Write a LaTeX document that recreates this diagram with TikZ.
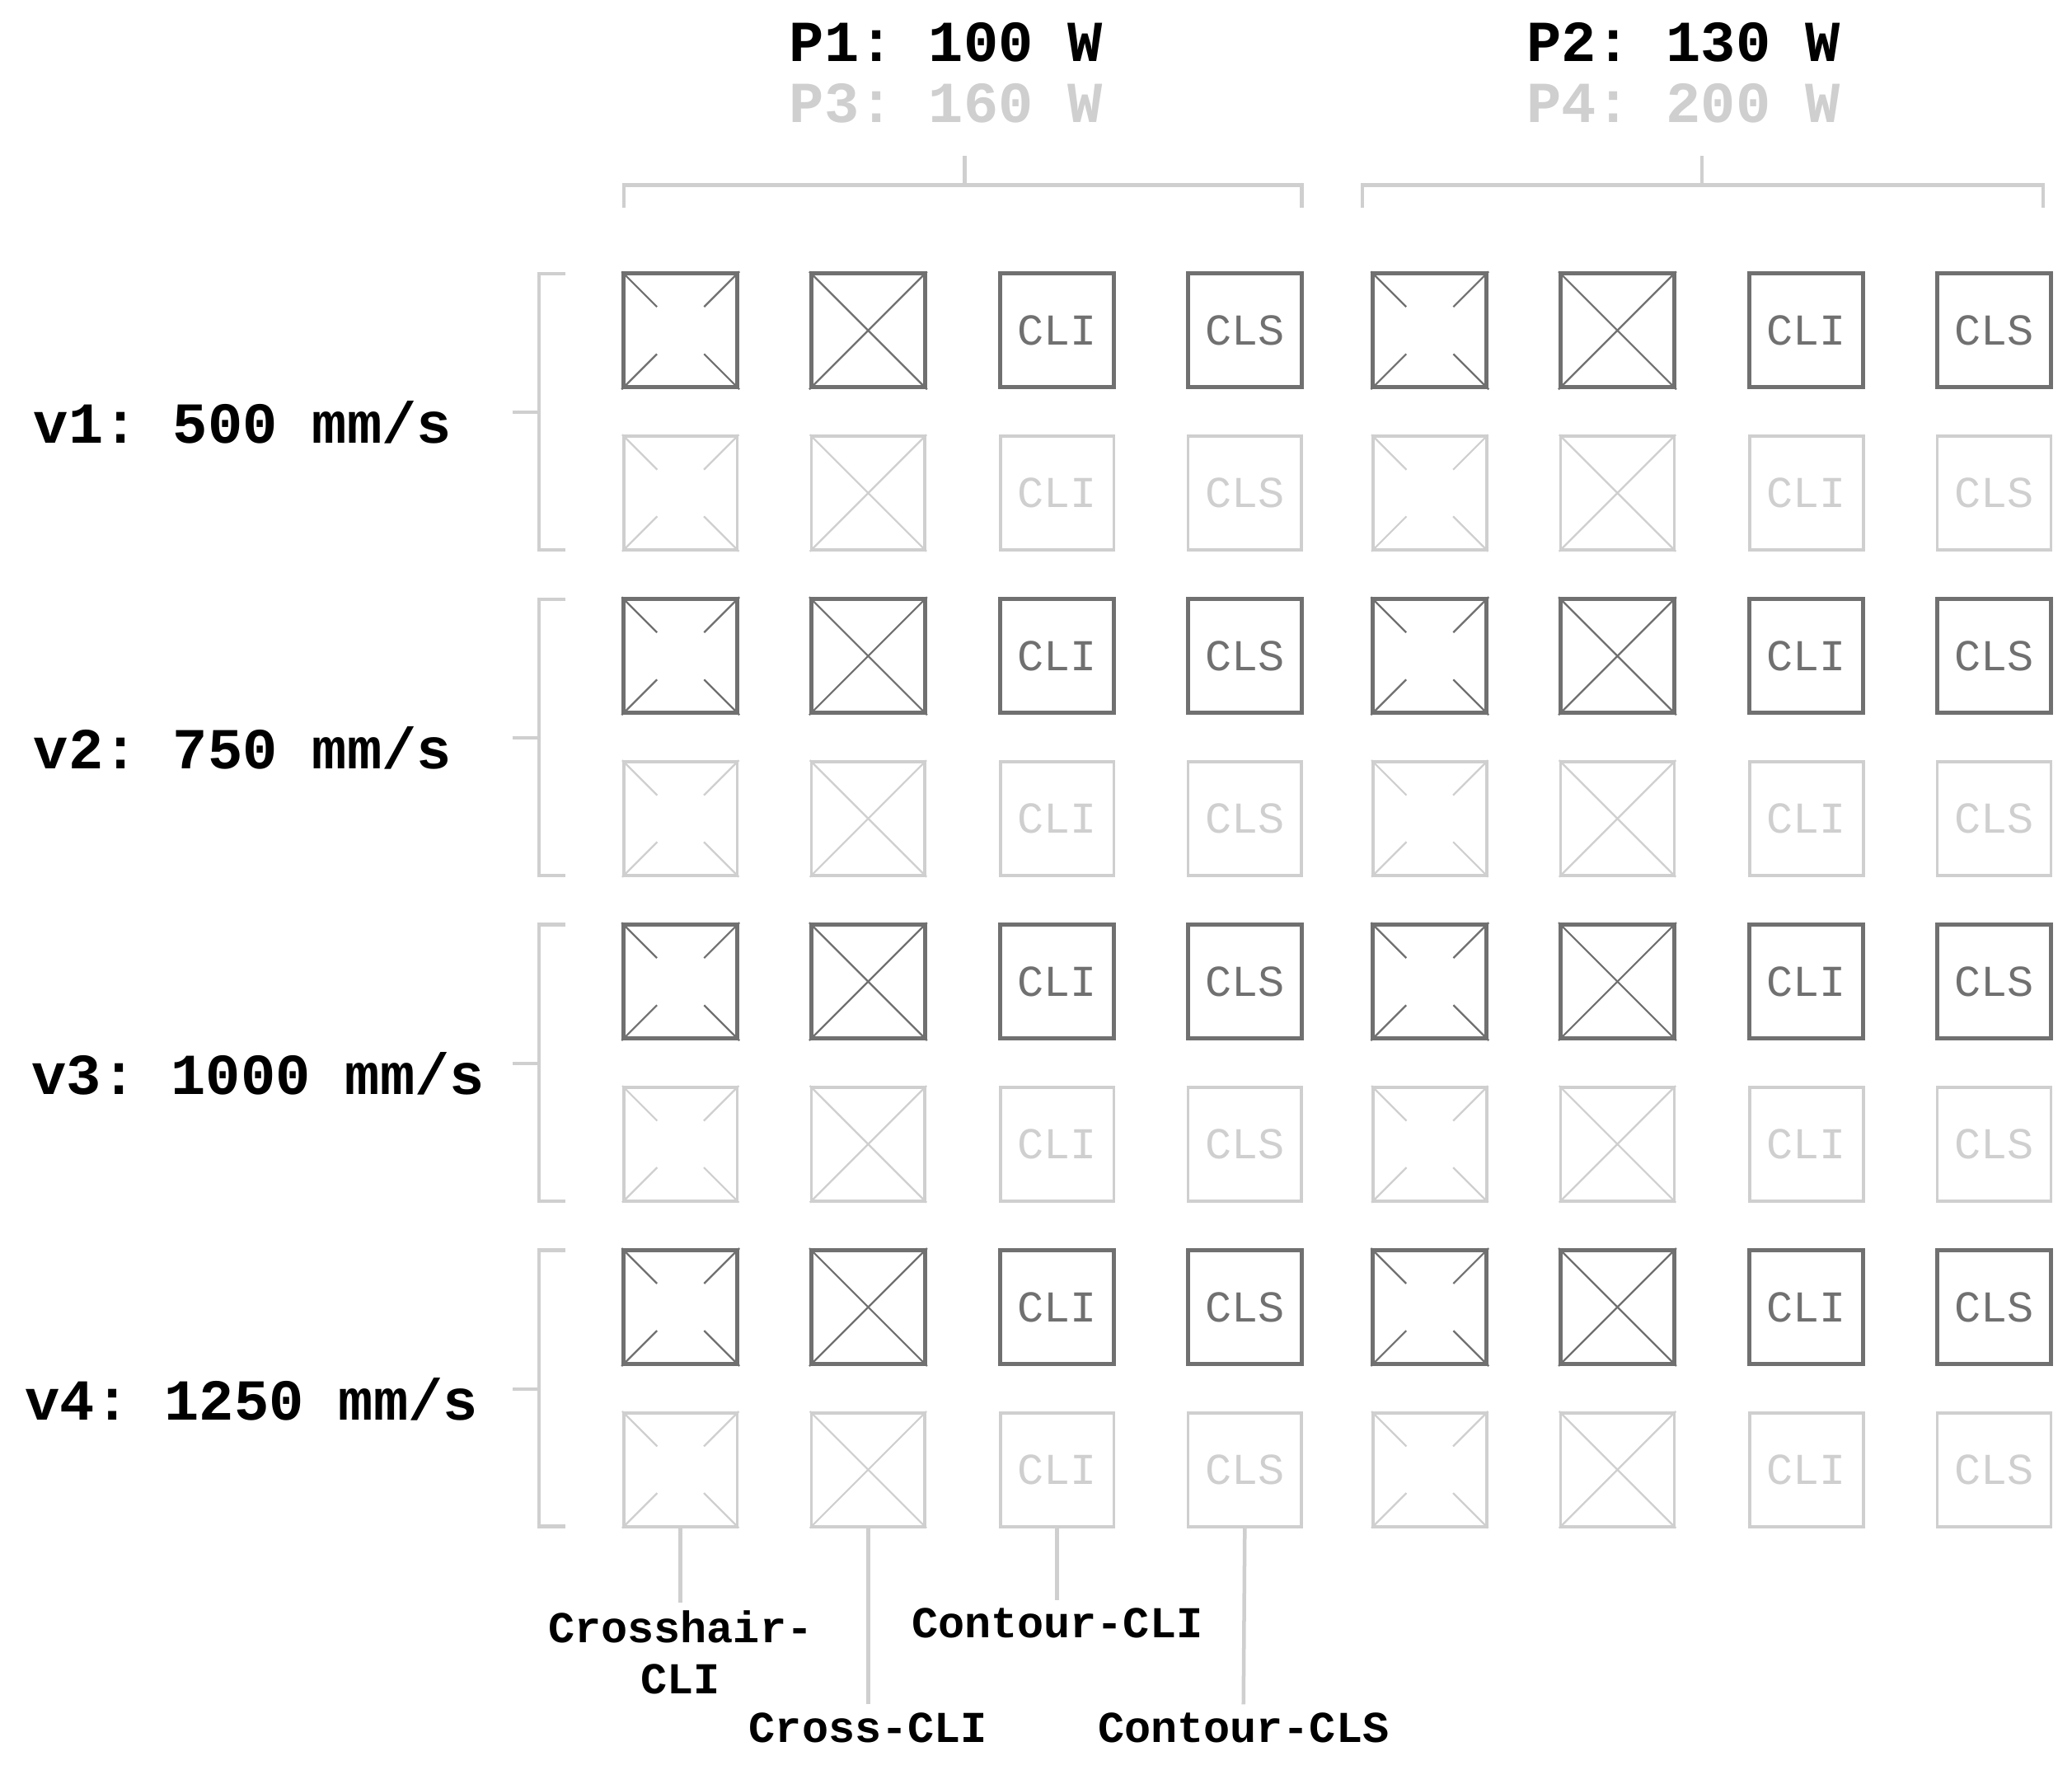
\documentclass[tikz,border=0pt]{standalone}
\usepackage{fontspec}
\setmonofont{Liberation Mono}
\usetikzlibrary{calc}
\definecolor{dk}{HTML}{707070}
\definecolor{lt}{HTML}{CFCFCF}
\begin{document}
\begin{tikzpicture}[x=0.02cm,y=-0.02cm,
 cell/.style={draw,minimum size=1.72cm,inner sep=0pt,font=\ttfamily\fontsize{19}{19}\selectfont},
 lbl/.style={font=\ttfamily\bfseries\fontsize{25}{25}\selectfont},
 sm/.style={font=\ttfamily\bfseries\fontsize{19}{22}\selectfont,align=center},
 brk/.style={draw=lt,line width=1.6pt}]
\useasboundingbox (0,0) rectangle (1568,1339);
\foreach \g in {0,1,2,3}{
 \foreach \r/\c/\w in {0/dk/1.8pt,1/lt/1.3pt}{
  \foreach \p in {0,1}{
   \pgfmathsetmacro{\y}{250+123*\r+246.3*\g}
   \pgfmathsetmacro{\xo}{515+567*\p}
   \node[cell,draw=\c,line width=\w] (a\g\r\p) at (\xo,\y) {};
   \foreach \q in {0.3}{
    \draw[\c,line width=0.8pt] (a\g\r\p.north west) -- ($(a\g\r\p.north west)!\q!(a\g\r\p.south east)$)
      (a\g\r\p.south east) -- ($(a\g\r\p.south east)!\q!(a\g\r\p.north west)$)
      (a\g\r\p.north east) -- ($(a\g\r\p.north east)!\q!(a\g\r\p.south west)$)
      (a\g\r\p.south west) -- ($(a\g\r\p.south west)!\q!(a\g\r\p.north east)$);}
   \node[cell,draw=\c,line width=\w] (b\g\r\p) at (\xo+142,\y) {};
   \draw[\c,line width=0.8pt] (b\g\r\p.north west) -- (b\g\r\p.south east) (b\g\r\p.north east) -- (b\g\r\p.south west);
   \node[cell,draw=\c,line width=\w,text=\c] (c\g\r\p) at (\xo+285,\y) {CLI};
   \node[cell,draw=\c,line width=\w,text=\c] (d\g\r\p) at (\xo+427,\y) {CLS};
  }}
 \pgfmathsetmacro{\yt}{207+246.3*\g}
 \pgfmathsetmacro{\yb}{416+246.3*\g}
 \pgfmathsetmacro{\ym}{312+246.3*\g}
 \coordinate (bt\g) at (428,\yt); \coordinate (bb\g) at (428,\yb); \coordinate (bm\g) at (388,\ym);
 \draw[brk] (bt\g) -- (408,\yt) -- (408,\yb) -- (bb\g) (408,\ym) -- (bm\g);
}
\node[lbl,anchor=east] (v1) at (bm0) [xshift=-0.8cm,yshift=-0.15cm] {v1: 500 mm/s};
\node[lbl,anchor=east] (v2) at (bm1) [xshift=-0.8cm,yshift=-0.15cm] {v2: 750 mm/s};
\node[lbl,anchor=east] (v3) at (bm2) [xshift=-0.3cm,yshift=-0.15cm] {v3: 1000 mm/s};
\node[lbl,anchor=east] (v4) at (bm3) [xshift=-0.4cm,yshift=-0.15cm] {v4: 1250 mm/s};
% top braces
\foreach \p/\xl/\xr/\xm/\ta/\tb in {0/472/985/730/{P1: 100 W}/{P3: 160 W},1/1031/1546/1288/{P2: 130 W}/{P4: 200 W}}{
 \coordinate (tl\p) at (\xl,157); \coordinate (tr\p) at (\xr,157); \coordinate (tm\p) at (\xm,118);
 \draw[brk] (tl\p) -- (\xl,140) -- (\xr,140) -- (tr\p) (\xm,140) -- (tm\p);
 \node[lbl] (pa\p) at (\xm-14,32) {\ta};
 \node[lbl,text=lt] (pb\p) at (\xm-14,78) {\tb};
}
% bottom labels
\node[sm] (l1) at (515,1250) {Crosshair-\\CLI};
\node[sm] (l2) at (657,1307) {Cross-CLI};
\node[sm] (l3) at (800,1228) {Contour-CLI};
\node[sm] (l4) at (941,1307) {Contour-CLS};
\draw[brk] (a310.south) -- (l1.north);
\draw[brk] (b310.south) -- (l2.north);
\draw[brk] (c310.south) -- (l3.north);
\draw[brk] (d310.south) -- (l4.north);
\end{tikzpicture}
\end{document}
